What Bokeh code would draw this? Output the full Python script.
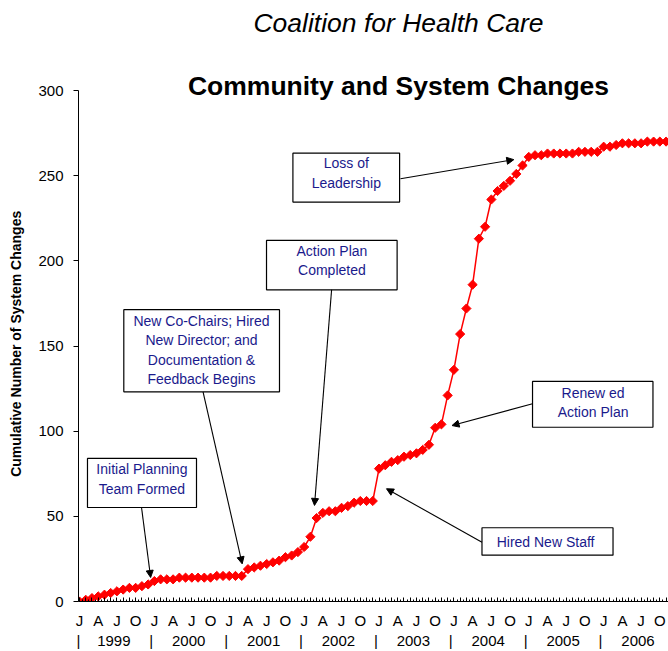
import math
from bokeh.plotting import figure
from bokeh.models import (FixedTicker, LinearAxis, Label, BoxAnnotation, Arrow,
                          NormalHead, Range1d)
from bokeh.embed import file_html
from bokeh.resources import INLINE

# ---------------- data ----------------
years = ["1999", "2000", "2001", "2002", "2003", "2004", "2005", "2006"]
quarter_letters = ["J", "A", "J", "O"]
values = [0, 1, 2, 3, 4, 5, 6, 7, 8, 8, 9, 10,
          12, 13, 13, 13, 14, 14, 14, 14, 14, 14, 15, 15,
          15, 15, 15, 19, 20, 21, 22, 23, 24, 26, 27, 29,
          32, 38, 49, 52, 53, 53, 55, 56, 58, 59, 59, 59,
          78, 80, 82, 83, 85, 86, 87, 89, 92, 102, 104, 121,
          136, 157, 172, 186, 213, 220, 236, 241, 244, 247, 251, 256,
          261, 262, 262, 263, 263, 263, 263, 263, 264, 264, 264, 264,
          267, 267, 268, 269, 269, 269, 269, 270, 270, 270, 270]
months = list(range(len(values)))
y_ticks = [0, 50, 100, 150, 200, 250, 300]

annotations = [
    dict(text="Initial Planning\nTeam Formed", box=(1.28, 18.75, 84.0, 55.2),
         center=(10.0, 71.9), arrow=(9.94, 55.2, 11.4, 14.1)),
    dict(text="New Co-Chairs; Hired\nNew Director; and\nDocumentation &\nFeedback Begins",
         box=(7.1, 32.05, 171.3, 123.1), center=(19.55, 147.6), arrow=(19.8, 123.1, 26.07, 22.1)),
    dict(text="Action Plan\nCompleted", box=(29.97, 50.9, 212.0, 183.0),
         center=(40.45, 200.2), arrow=(40.4, 183.0, 37.66, 56.4)),
    dict(text="Loss of\nLeadership", box=(34.2, 51.3, 263.2, 234.5),
         center=(42.76, 251.6), arrow=(51.44, 248.2, 69.6, 259.4)),
    dict(text="Renew ed\nAction Plan", box=(72.6, 91.9, 129.2, 102.3),
         center=(82.3, 116.9), arrow=(72.6, 116.1, 59.7, 103.3)),
    dict(text="Hired New  Staff", box=(64.5, 85.5, 43.3, 27.2),
         center=(75.0, 35.2), arrow=(64.5, 34.8, 49.2, 66.2)),
]

FONT = "Liberation Sans"
X0, X1 = -0.16, 94.39
Y_MAX = 300
FRAME_H = 601
Y_TOP = Y_MAX * FRAME_H / 511.0  # frame reaches the top of the page so titles are not clipped

p = figure(width=668, height=651, output_backend="svg", toolbar_location=None,
           x_range=Range1d(X0, X1), y_range=Range1d(0, Y_TOP),
           min_border_left=78, min_border_right=0, min_border_top=0,
           min_border_bottom=50, x_axis_location=None, y_axis_location="left")
p.outline_line_color = None
p.grid.grid_line_color = None
p.background_fill_color = "white"
p.border_fill_color = "white"

# y axis
ya = p.yaxis[0]
ya.ticker = FixedTicker(ticks=y_ticks)
ya.bounds = (0, Y_MAX)
ya.major_tick_out = 5
ya.major_tick_in = 0
ya.minor_tick_line_color = None
ya.axis_line_color = "black"
ya.major_tick_line_color = "black"
ya.major_label_standoff = 10
ya.major_label_text_font = FONT
ya.major_label_text_font_size = "15px"
ya.major_label_text_color = "black"
# trailing no-break spaces move the centred label down to the middle of the 0-300 span
ya.axis_label = "Cumulative Number of System Changes" + "\u00a0" * 22
ya.axis_label_text_font = FONT
ya.axis_label_text_font_style = "bold"
ya.axis_label_text_font_size = "14px"
ya.axis_label_text_color = "black"
ya.axis_label_standoff = 11

# x axis 1: month ticks and quarter letters
month_labels = {i: (quarter_letters[(i % 12) // 3] if i % 3 == 0 else "") for i in months}
ax1 = LinearAxis(ticker=FixedTicker(ticks=months, minor_ticks=[i + 0.5 for i in months]),
                 major_label_overrides=month_labels)
ax1.major_tick_in = 4
ax1.major_tick_out = 0
ax1.minor_tick_in = 2
ax1.minor_tick_out = 0
ax1.axis_line_color = "black"
ax1.major_tick_line_color = "black"
ax1.minor_tick_line_color = "black"
ax1.major_label_standoff = 10
ax1.major_label_text_font = FONT
ax1.major_label_text_font_size = "15px"
ax1.major_label_text_color = "black"
p.add_layout(ax1, "below")

# x axis 2: year labels with separators
sep_ticks = [X0] + [11.5 + 12 * k for k in range(len(years) - 1)]
year_ticks = [5.5 + 12 * k for k in range(len(years))]
year_labels = {t: "|" for t in sep_ticks}
year_labels.update({t: y for t, y in zip(year_ticks, years)})
ax2 = LinearAxis(ticker=FixedTicker(ticks=sorted(sep_ticks + year_ticks), minor_ticks=[]),
                 major_label_overrides=year_labels)
ax2.axis_line_color = None
ax2.major_tick_line_color = None
ax2.minor_tick_line_color = None
ax2.major_tick_in = 0
ax2.major_tick_out = 0
ax2.major_label_standoff = 0
ax2.major_label_text_font = FONT
ax2.major_label_text_font_size = "15px"
ax2.major_label_text_color = "black"
p.add_layout(ax2, "below")

# data
p.line(months, values, line_color="#FF0000", line_width=1.5)
p.scatter(months, values, marker="square", angle=math.pi / 4, size=6.5,
          fill_color="#FF0000", line_color="#FF0000")

# callouts
for a in annotations:
    l, r, t, b = a["box"]
    p.add_layout(BoxAnnotation(left=l, right=r, top=t, bottom=b, fill_color="white",
                               fill_alpha=1.0, line_color="black", line_width=1.2,
                               line_alpha=1.0))
    cx, cy = a["center"]
    p.add_layout(Label(x=cx, y=cy, text=a["text"], text_align="center",
                       text_baseline="middle", text_font=FONT, text_font_size="14px",
                       text_color="#1a1a8c", text_line_height=1.2))
    xs, ys, xe, ye = a["arrow"]
    p.add_layout(Arrow(x_start=xs, y_start=ys, x_end=xe, y_end=ye, line_color="black",
                       line_width=1.1,
                       end=NormalHead(size=7, fill_color="black", line_color="black")))

# titles
p.add_layout(Label(x=320, y=579, x_units="screen", y_units="screen",
                   text="Coalition for Health Care", text_align="center",
                   text_baseline="middle", text_font=FONT, text_font_size="26.5px",
                   text_font_style="italic", text_color="black"))
p.add_layout(Label(x=320, y=516, x_units="screen", y_units="screen",
                   text="Community and System Changes", text_align="center",
                   text_baseline="middle", text_font=FONT, text_font_size="26.5px",
                   text_font_style="bold", text_color="black"))

open("out.html", "w").write(file_html(p, INLINE))
